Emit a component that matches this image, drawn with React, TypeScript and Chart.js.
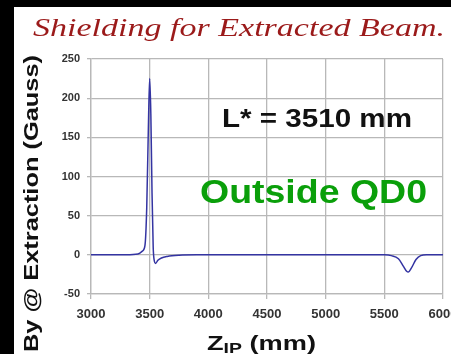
import React, { useEffect, useRef } from "react";
import { Chart, registerables } from "chart.js";

Chart.register(...registerables);

// Data
const zValues = [
  3000, 3300, 3400, 3440, 3460, 3475, 3490, 3500, 3510, 3520, 3530, 3540, 3550, 3570,
  3600, 3650, 3750, 3900, 5500, 5560, 5620, 5660, 5690, 5705, 5730, 5770, 5810, 5860, 6000,
];
const byValues = [
  0, 0, 1, 5, 12, 60, 170, 225, 180, 80, 10, -8, -11, -7,
  -4, -2, -0.5, 0, 0, -1, -5, -14, -21, -22, -17, -6, -1, 0, 0,
];
const xTickMin = 3000;
const xTickMax = 6000;
const xTickStep = 500;
const yTickMin = -50;
const yTickMax = 250;
const yTickStep = 50;

const titleText = "Shielding for Extracted Beam.";
const yTitleText = "By @ Extraction (Gauss)";
const xTitleMain = "Z";
const xTitleSub = "IP";
const xTitleRest = " (mm)";
const noteLText = "L* = 3510 mm";
const noteOutsideText = "Outside QD0";

const W = 470;
const H = 354;

function fitText(
  ctx: CanvasRenderingContext2D,
  text: string,
  font: string,
  color: string,
  left: number,
  baseline: number,
  width: number
) {
  ctx.save();
  ctx.font = font;
  ctx.fillStyle = color;
  ctx.textBaseline = "alphabetic";
  ctx.textAlign = "left";
  const w = ctx.measureText(text).width;
  ctx.translate(left, baseline);
  ctx.scale(width / w, 1);
  ctx.fillText(text, 0, 0);
  ctx.restore();
}

const decorPlugin = {
  id: "decor",
  beforeDraw(chart: any) {
    const ctx: CanvasRenderingContext2D = chart.ctx;
    ctx.save();
    ctx.fillStyle = "#000";
    ctx.fillRect(0, 0, chart.width, chart.height);
    ctx.fillStyle = "#fff";
    ctx.fillRect(14, 7, chart.width - 14, chart.height - 7);
    ctx.restore();
  },
  afterDraw(chart: any) {
    const ctx: CanvasRenderingContext2D = chart.ctx;
    // Title
    fitText(ctx, titleText, "italic 25px 'Liberation Serif'", "#9b1a1a", 33, 36, 412);
    // Annotations
    fitText(ctx, noteLText, "bold 26px 'Liberation Sans'", "#111", 222, 127, 190);
    fitText(ctx, noteOutsideText, "bold 33px 'Liberation Sans'", "#0a9f0a", 200, 203, 227);

    // Y title (rotated)
    ctx.save();
    ctx.translate(38, 352);
    ctx.rotate(-Math.PI / 2);
    fitText(ctx, yTitleText, "bold 20px 'Liberation Sans'", "#111", 0, 0, 297);
    ctx.restore();

    // X title with subscript
    ctx.save();
    const fMain = "bold 21px 'Liberation Sans'";
    const fSub = "bold 15px 'Liberation Sans'";
    ctx.font = fMain;
    const w1 = ctx.measureText(xTitleMain).width;
    const w3 = ctx.measureText(xTitleRest).width;
    ctx.font = fSub;
    const w2 = ctx.measureText(xTitleSub).width;
    const total = w1 + w2 + w3;
    const sx = 109 / total;
    ctx.translate(207, 0);
    ctx.scale(sx, 1);
    ctx.fillStyle = "#111";
    ctx.textBaseline = "alphabetic";
    ctx.font = fMain;
    ctx.fillText(xTitleMain, 0, 350);
    ctx.font = fSub;
    ctx.fillText(xTitleSub, w1, 353);
    ctx.font = fMain;
    ctx.fillText(xTitleRest, w1 + w2, 350);
    ctx.restore();
  },
};

export default function App() {
  const ref = useRef<HTMLCanvasElement | null>(null);
  useEffect(() => {
    if (!ref.current) return;
    const gridColor = "#b8b8b8";
    const chart = new Chart(ref.current, {
      type: "line",
      data: {
        datasets: [
          {
            data: zValues.map((z, i) => ({ x: z, y: byValues[i] })),
            borderColor: "#3434a2",
            borderWidth: 1.5,
            pointRadius: 0,
            cubicInterpolationMode: "monotone",
            fill: false,
          },
        ],
      },
      options: {
        animation: false,
        responsive: false,
        maintainAspectRatio: false,
        devicePixelRatio: 1,
        layout: { padding: { top: 59, left: 14, right: W - 443, bottom: 0 } },
        plugins: { legend: { display: false }, tooltip: { enabled: false }, title: { display: false } },
        scales: {
          x: {
            type: "linear",
            min: xTickMin,
            max: xTickMax,
            ticks: {
              stepSize: xTickStep,
              color: "#333",
              font: { family: "'Liberation Sans'", size: 13, weight: "bold" },
              padding: 8,
              maxRotation: 0,
              autoSkip: false,
              callback: (v: any) => String(v),
            },
            grid: { color: gridColor, tickLength: 5, lineWidth: 1.3 },
            border: { color: gridColor, width: 1.3 },
            afterFit: (s: any) => {
              s.height = 60;
            },
          },
          y: {
            min: yTickMin,
            max: yTickMax,
            ticks: {
              stepSize: yTickStep,
              color: "#333",
              font: { family: "'Liberation Sans'", size: 11, weight: "bold" },
              padding: 7,
              callback: (v: any) => String(v),
            },
            grid: { color: gridColor, tickLength: 4, lineWidth: 1.3 },
            border: { color: gridColor, width: 1.3 },
            afterFit: (s: any) => {
              s.width = 77;
            },
          },
        },
      },
      plugins: [decorPlugin],
    } as any);
    return () => chart.destroy();
  }, []);
  return (
    <div
      style={{
        position: "fixed",
        left: 0,
        top: 0,
        width: 451,
        height: 354,
        overflow: "hidden",
        background: "#fff",
      }}
    >
      <canvas ref={ref} width={W} height={H} style={{ width: W, height: H, display: "block" }} />
    </div>
  );
}
